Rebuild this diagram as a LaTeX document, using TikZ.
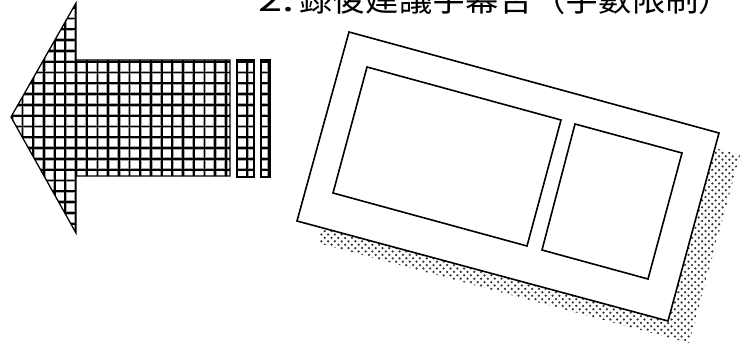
\documentclass[tikz,border=0pt]{standalone}
\usepackage{fontspec}
\newfontfamily\cjk{Noto Sans CJK TC}
\usetikzlibrary{patterns}
\pgfdeclarepatternformonly{shadowdots}{\pgfpoint{-1pt}{-1pt}}{\pgfpoint{7.8pt}{7.8pt}}{\pgfpoint{6.8pt}{6.8pt}}{%
  \pgfpathcircle{\pgfpoint{1.7pt}{1.7pt}}{1.25pt}%
  \pgfpathcircle{\pgfpoint{5.1pt}{5.1pt}}{1.25pt}%
  \pgfusepath{fill}}
\begin{document}
\begin{tikzpicture}[x=1pt,y=-1pt,
  frame/.style={draw=black,line width=1.6pt,line join=miter},
  outline/.style={draw=black,line width=1.3pt,line join=miter},
  gridhalo/.style={draw=black!35,line width=3.4pt},
  gridline/.style={draw=black,line width=1.8pt},
  titletext/.style={anchor=base west,inner sep=0pt,font=\cjk\fontsize{33.3}{40}\selectfont}]
\useasboundingbox (0,0) rectangle (741,345);
\clip (0,0) rectangle (741,345);

% title (cut at the top edge)
\node[titletext] (num) at (258,12) {\scalebox{1.3}[1]{2.}};
\node[titletext] (title) at (299,12) {錄後建議字幕否（字數限制）};

% arrow corners
\coordinate (tip) at (11,117);
\coordinate (ht) at (76,3);
\coordinate (st) at (76,60);
\coordinate (se1) at (230,60);
\coordinate (se2) at (230,176);
\coordinate (sb) at (76,176);
\coordinate (hb) at (76,233);

% grid filling of arrow and bars
\begin{scope}
  \clip (tip)--(ht)--(st)--(se1)--(se2)--(sb)--(hb)--cycle
        (237,60) rectangle (254,177)
        (261,60) rectangle (270,177);
  \foreach \k in {-6,...,16} {\path[gridhalo] (0,61.7+10.8*\k) -- (280,61.7+10.8*\k);}
  \foreach \k in {-7,...,19} {\path[gridhalo] (76+10.7*\k,0) -- (76+10.7*\k,240);}
  \foreach \k in {-6,...,16} {\path[gridline] (0,61.7+10.8*\k) -- (280,61.7+10.8*\k);}
  \foreach \k in {-7,...,19} {\path[gridline] (76+10.7*\k,0) -- (76+10.7*\k,240);}
\end{scope}
\path[outline] (tip)--(ht)--(st)--(se1)--(se2)--(sb)--(hb)--cycle;
\path[outline] (237,60) rectangle (254,177);
\path[outline] (261,60) rectangle (270,177);

% picture frame
\coordinate (oTL) at (349,32);
\coordinate (oTR) at (719,133);
\coordinate (oBR) at (668,321);
\coordinate (oBL) at (297,221);
\fill[pattern=shadowdots,pattern color=black!80]
  ([shift={(21,22)}]oTL) -- ([shift={(21,22)}]oTR) -- ([shift={(21,22)}]oBR) -- ([shift={(21,22)}]oBL) -- cycle;
\path[frame,fill=white] (oTL) -- (oTR) -- (oBR) -- (oBL) -- cycle;

\coordinate (aTL) at (367,67);
\coordinate (aTR) at (561,120);
\coordinate (aBR) at (527,246);
\coordinate (aBL) at (333,193);
\path[frame] (aTL) -- (aTR) -- (aBR) -- (aBL) -- cycle;

\coordinate (bTL) at (575,124);
\coordinate (bTR) at (682,153);
\coordinate (bBR) at (648,279);
\coordinate (bBL) at (542,250);
\path[frame] (bTL) -- (bTR) -- (bBR) -- (bBL) -- cycle;
\end{tikzpicture}
\end{document}
